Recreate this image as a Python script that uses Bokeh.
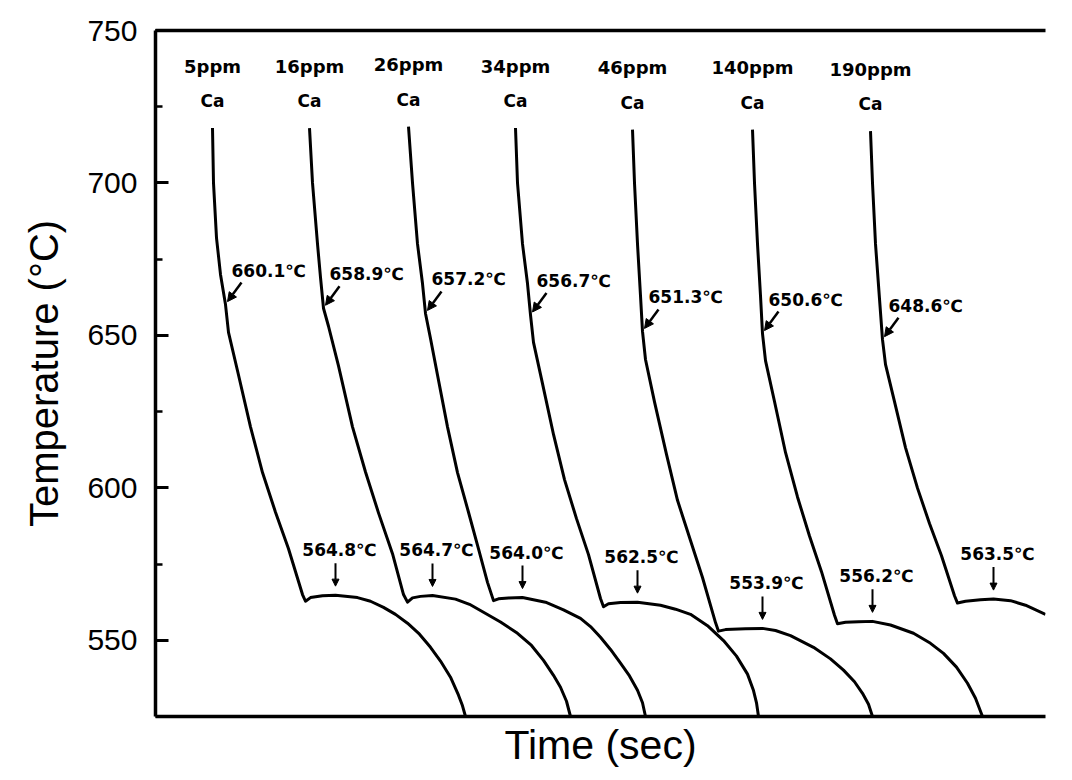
from bokeh.plotting import figure
from bokeh.models import Range1d, LinearAxis, FixedTicker, SingleIntervalTicker, Arrow, NormalHead, ColumnDataSource
from bokeh.core.properties import value
from bokeh.embed import file_html
from bokeh.resources import INLINE

# ---------------- data (time in arbitrary seconds, temperature in °C) ----------------
ca_labels = ["5ppm", "16ppm", "26ppm", "34ppm", "46ppm", "140ppm", "190ppm"]

t_5 = [57, 58, 61, 65, 70, 73, 83, 95, 107, 120, 133, 147, 150, 155, 167, 180,
       202, 215, 228, 240, 252, 264, 275, 285, 295, 303, 307, 310]
T_5 = [718, 700, 682, 670, 660.1, 651, 637, 620, 605, 592, 580, 565, 562.8, 564.0, 564.6, 564.8,
       564.0, 562.8, 560.8, 558.5, 555.6, 552.0, 547.7, 543.2, 537.9, 532.0, 528.5, 525]

t_16 = [154, 157, 162, 165, 168, 173, 183, 197, 210, 223, 237, 248, 252, 257, 265, 277,
        300, 314, 328, 345, 362, 376, 388, 398, 405, 411, 415]
T_16 = [718, 700, 680, 669, 658.9, 653, 640, 620, 605.2, 591.8, 578.4, 565, 562.5, 563.9, 564.4, 564.7,
        563.5, 561.8, 559.2, 556.0, 552.3, 548.3, 543.4, 538.5, 534.6, 530, 525]

t_26 = [253, 257, 262, 267, 270, 275, 282, 292, 302, 313, 323, 332, 338, 343, 353, 367,
        390, 408, 425, 435, 445, 455, 465, 474, 482, 487, 490]
T_26 = [718.5, 700, 680, 667, 657.2, 649, 637, 620, 605, 592, 580, 569, 563.0, 563.6, 563.9, 564.0,
        562.5, 560.0, 557.2, 554.5, 551, 547, 542.5, 538.3, 533.6, 529.5, 525]

t_34 = [360, 362, 367, 372, 375, 378, 387, 398, 409, 421, 433, 445, 448, 453, 465, 482,
        505, 520, 535, 552, 568, 581, 592, 598, 601, 603]
T_34 = [718, 700, 680, 667, 656.7, 647.7, 634.2, 617.5, 602.7, 589.9, 578.1, 563.7, 561.0, 562.0, 562.4, 562.5,
        561.5, 560.2, 558.5, 554.8, 549.9, 544.8, 538.9, 533.5, 529.5, 525]

t_46 = [477, 479, 482, 485, 487, 490, 499, 511, 522, 535, 547, 560, 563, 570, 590, 607,
        620, 635, 658, 675, 688, 699, 707, 713, 717]
T_46 = [717.5, 700, 680, 663, 651.3, 642.1, 628.2, 611.0, 595.9, 582.7, 570.6, 555.8, 553.0, 553.5, 553.8, 553.9,
        553.2, 551.5, 547.7, 543.9, 540.2, 536.4, 532.6, 529, 525]

t_140 = [597, 599, 602, 605, 607, 610, 619, 630, 642, 654, 666, 679, 682, 690, 703, 717,
         735, 758, 775, 788, 801, 812, 820, 827]
T_140 = [717.5, 700, 680, 663, 650.6, 641.7, 628.3, 611.6, 597.0, 584.2, 572.5, 558.2, 555.4, 555.9, 556.1, 556.2,
         555.0, 552.3, 549.0, 545.7, 541.2, 535.9, 531, 525]

t_190 = [715, 717, 720, 724, 727, 730, 739, 750, 762, 774, 786, 799, 802, 810, 825, 838,
         855, 870, 890]
T_190 = [717, 700, 680, 662, 648.6, 640.5, 628.3, 613.2, 599.9, 588.3, 577.7, 564.6, 562.2, 562.8, 563.3, 563.5,
         563.0, 561.5, 558.5]

curves_t = [t_5, t_16, t_26, t_34, t_46, t_140, t_190]
curves_T = [T_5, T_16, T_26, T_34, T_46, T_140, T_190]

knee_t = [70, 168, 270, 375, 487, 607, 727]
knee_T = [660.1, 658.9, 657.2, 656.7, 651.3, 650.6, 648.6]

peak_t = [180, 277, 367, 482, 607, 717, 838]
peak_T = [564.8, 564.7, 564.0, 562.5, 553.9, 556.2, 563.5]

# ---------------- figure ----------------
X0, X1, Y0, Y1 = 0, 890, 525, 750
FRAME_W, FRAME_H = 890, 686
px_x = (X1 - X0) / FRAME_W
px_y = (Y1 - Y0) / FRAME_H

p = figure(width=1072, height=780, output_backend="svg", toolbar_location=None,
           x_range=Range1d(X0, X1), y_range=Range1d(Y0, Y1),
           min_border_left=155, min_border_right=27, min_border_top=30, min_border_bottom=64)
p.grid.visible = False
p.outline_line_color = None
p.background_fill_color = "white"
p.border_fill_color = "white"

FONT = "Liberation Sans"
LFONT = "DejaVu Sans"

ya = p.yaxis[0]
ya.ticker = SingleIntervalTicker(interval=50, num_minor_ticks=2)
ya.major_tick_in = 13
ya.major_tick_out = 0
ya.minor_tick_in = 7
ya.minor_tick_out = 0
ya.axis_line_width = 3.5
ya.major_tick_line_width = 3
ya.minor_tick_line_width = 2.5
ya.major_label_text_font = FONT
ya.major_label_text_font_size = "30px"
ya.major_label_text_color = "black"
ya.major_label_standoff = 18
ya.axis_label = "Temperature (°C)"
ya.axis_label_text_font = FONT
ya.axis_label_text_font_size = "40px"
ya.axis_label_text_font_style = "normal"
ya.axis_label_text_color = "black"
ya.axis_label_standoff = 18

xa = p.xaxis[0]
xa.ticker = FixedTicker(ticks=[])
xa.major_label_text_font_size = "0px"
xa.major_label_standoff = 0
xa.major_tick_out = 0
xa.axis_line_width = 3.5
xa.axis_label = "Time (sec)"
xa.axis_label_text_font = FONT
xa.axis_label_text_font_size = "41px"
xa.axis_label_text_font_style = "normal"
xa.axis_label_text_color = "black"
xa.axis_label_standoff = 5

top = LinearAxis(ticker=FixedTicker(ticks=[]), major_label_text_font_size="0px",
                 major_label_standoff=0, major_tick_out=0, axis_line_width=3.5)
p.add_layout(top, "above")

for tt, TT in zip(curves_t, curves_T):
    p.line(tt, TT, line_color="black", line_width=3, line_join="round")

# labels at curve tops
start_t = [c[0] for c in curves_t]
start_T = [c[0] for c in curves_T]
p.text(x=start_t, y=[v + 62 * px_y for v in start_T], text=ca_labels,
       text_align="center", text_baseline="middle", text_font=value(LFONT),
       text_font_style="bold", text_font_size="18px", text_color="black")
p.text(x=start_t, y=[v + 27 * px_y for v in start_T], text=["Ca"] * len(start_t),
       text_align="center", text_baseline="middle", text_font=value(LFONT),
       text_font_style="bold", text_font_size="17px", text_color="black")

# knee annotations
p.text(x=[v + 6 * px_x for v in knee_t], y=[v + 34 * px_y for v in knee_T],
       text=[f"{v:.1f}℃" for v in knee_T], text_align="left", text_baseline="middle",
       text_font=value(LFONT), text_font_style="bold", text_font_size="17px", text_color="black")
knee_src = ColumnDataSource(dict(
    xs=[v + 16 * px_x for v in knee_t], ys=[v + 22 * px_y for v in knee_T],
    xe=[v + 2 * px_x for v in knee_t], ye=[v + 3 * px_y for v in knee_T]))
p.add_layout(Arrow(end=NormalHead(size=9, fill_color="black", line_color="black"),
                   x_start="xs", y_start="ys", x_end="xe", y_end="ye",
                   line_width=2.5, line_color="black", source=knee_src))

# plateau annotations
p.text(x=[v + 4 * px_x for v in peak_t], y=[v + 45 * px_y for v in peak_T],
       text=[f"{v:.1f}℃" for v in peak_T], text_align="center", text_baseline="middle",
       text_font=value(LFONT), text_font_style="bold", text_font_size="17px", text_color="black")
peak_src = ColumnDataSource(dict(
    xs=peak_t, ys=[v + 32 * px_y for v in peak_T],
    xe=peak_t, ye=[v + 9 * px_y for v in peak_T]))
p.add_layout(Arrow(end=NormalHead(size=7, fill_color="black", line_color="black"),
                   x_start="xs", y_start="ys", x_end="xe", y_end="ye",
                   line_width=2, line_color="black", source=peak_src))

open("out.html", "w").write(file_html(p, INLINE))
